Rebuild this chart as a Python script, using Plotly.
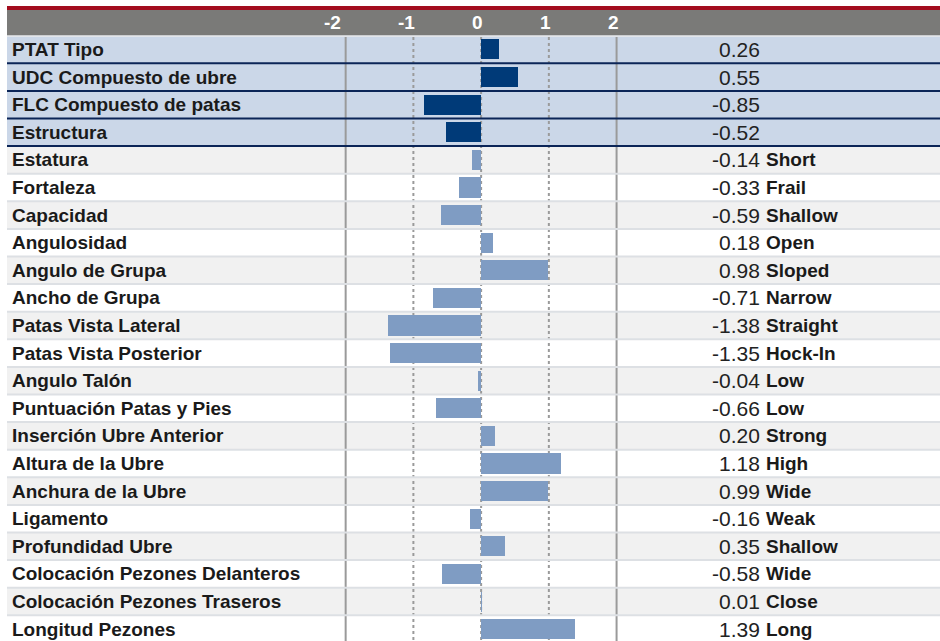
import plotly.graph_objects as go

labels = ["PTAT Tipo", "UDC Compuesto de ubre", "FLC Compuesto de patas", "Estructura",
          "Estatura", "Fortaleza", "Capacidad", "Angulosidad", "Angulo de Grupa",
          "Ancho de Grupa", "Patas Vista Lateral", "Patas Vista Posterior", "Angulo Talón",
          "Puntuación Patas y Pies", "Inserción Ubre Anterior", "Altura de la Ubre",
          "Anchura de la Ubre", "Ligamento", "Profundidad Ubre",
          "Colocación Pezones Delanteros", "Colocación Pezones Traseros", "Longitud Pezones"]
values = [0.26, 0.55, -0.85, -0.52, -0.14, -0.33, -0.59, 0.18, 0.98, -0.71, -1.38, -1.35,
          -0.04, -0.66, 0.20, 1.18, 0.99, -0.16, 0.35, -0.58, 0.01, 1.39]
descriptors = ["", "", "", "", "Short", "Frail", "Shallow", "Open", "Sloped", "Narrow",
               "Straight", "Hock-In", "Low", "Low", "Strong", "High", "Wide", "Weak",
               "Shallow", "Wide", "Close", "Long"]
ticks = [-2, -1, 0, 1, 2]
n_summary = 4  # first rows are the composite indexes

NAVY = "#003a78"
LIGHT = "#7f9cc3"
FONT = "Liberation Sans"
n = len(labels)
rows = list(range(n))

fig = go.Figure()
fig.add_trace(go.Bar(x=values, y=rows, orientation="h", width=0.725,
                     marker=dict(color=[NAVY if i < n_summary else LIGHT for i in rows], line_width=0),
                     hoverinfo="x+text", hovertext=labels, showlegend=False))

shapes = []
# row backgrounds
for i in rows:
    if i < n_summary:
        col = "#cbd7e8"
    else:
        col = "#f1f1f1" if i % 2 == 0 else "#ffffff"
    shapes.append(dict(type="rect", xref="paper", yref="y", x0=0, x1=1, y0=i - 0.5, y1=i + 0.5,
                       fillcolor=col, line_width=0, layer="below"))
# header + red rule
shapes.append(dict(type="rect", xref="paper", yref="y", x0=0, x1=1, y0=-1.431, y1=-0.507,
                   fillcolor="#7a7a78", line_width=0, layer="below"))
shapes.append(dict(type="rect", xref="paper", yref="y", x0=0, x1=1, y0=-1.576, y1=-1.431,
                   fillcolor="#a30d1e", line_width=0, layer="below"))
shapes.append(dict(type="rect", xref="paper", yref="y", x0=0, x1=1, y0=-0.507, y1=-0.453,
                   fillcolor="#e2e5ea", line_width=0, layer="below"))
# grid lines
for t in ticks:
    shapes.append(dict(type="line", xref="x", yref="y", x0=t, x1=t, y0=-0.453, y1=n,
                       line=dict(color="#9a9a9a", width=2, dash="solid" if abs(t) == 2 else "dot"),
                       layer="below"))
# row separators
for i in range(n - 1):
    navy = i < n_summary
    shapes.append(dict(type="line", xref="paper", yref="y", x0=0, x1=1, y0=i + 0.5, y1=i + 0.5,
                       line=dict(color="#0b2557" if navy else "#dde0e4", width=2), layer="above"))

ann = []
for t in ticks:
    ann.append(dict(x=t + (0.06 if t > -2 else -0.04), y=-0.978, xref="x", yref="y", text=str(t),
                    showarrow=False, xanchor="right",
                    font=dict(family=FONT, size=19, color="white", weight="bold")))
for i in rows:
    ann.append(dict(x=3 / 933, y=i, xref="paper", yref="y", text=labels[i], showarrow=False,
                    xanchor="left", font=dict(family=FONT, size=19, color="#1a1a1a", weight="bold")))
    ann.append(dict(x=4.15, y=i, xref="x", yref="y", text=f"{values[i]:.2f}", showarrow=False,
                    xanchor="right", font=dict(family=FONT, size=21, color="#222222")))
    if descriptors[i]:
        ann.append(dict(x=4.17, y=i, xref="x", yref="y", text=descriptors[i], showarrow=False,
                        xanchor="left", font=dict(family=FONT, size=19, color="#1a1a1a", weight="bold")))

fig.update_layout(
    width=940, height=641,
    margin=dict(l=7, r=0, t=0, b=0),
    paper_bgcolor="white", plot_bgcolor="white",
    xaxis=dict(range=[-7.0, 6.775], visible=False, fixedrange=True),
    yaxis=dict(range=[21.431, -1.793], visible=False, fixedrange=True),
    shapes=shapes, annotations=ann, bargap=0,
)

fig.write_html("out.html", config={"displayModeBar": False},
               post_script="document.body.style.margin='0';document.body.style.overflow='hidden';")
